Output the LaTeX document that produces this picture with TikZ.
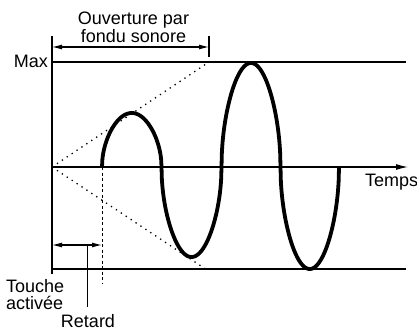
\documentclass[tikz,border=0pt]{standalone}
\usepackage{fontspec}
\setmainfont{Liberation Sans}
\usetikzlibrary{arrows.meta}
\begin{document}
\begin{tikzpicture}[x=1pt,y=-1pt,
  thinline/.style={line width=1.2pt},
  dimarrow/.style={line width=1.1pt,{Latex[length=10pt,width=5pt]}-{Latex[length=10pt,width=5pt]}},
  envline/.style={line width=1.3pt,dash pattern=on 1.3pt off 4.6pt},
  lbl/.style={inner sep=0pt,font=\fontsize{18}{16.2}\selectfont}]
\useasboundingbox (0,0) rectangle (417,331);
% coordinates
\coordinate (top) at (52,36);
\coordinate (bot) at (52,274);
\coordinate (o) at (52,167);
\coordinate (xend) at (408,167);
\coordinate (maxl) at (52,62);
\coordinate (maxr) at (406,62);
\coordinate (minl) at (52,269);
\coordinate (minr) at (406,269);
\coordinate (envtop) at (209,62);
\coordinate (envbot) at (207,270);
\coordinate (tickt) at (209,36);
\coordinate (tickb) at (209,57);
\coordinate (dl) at (52,47);
\coordinate (dr) at (209,47);
\coordinate (startup) at (102,167);
\coordinate (startdn) at (102,284);
\coordinate (rl) at (52,245);
\coordinate (rr) at (102,245);
\coordinate (lead) at (87.5,245);
\coordinate (leadb) at (87.5,307);
% axes and lines
\draw[thinline] (top) -- (bot);
\draw[thinline] (maxl) -- (maxr);
\draw[thinline] (minl) -- (minr);
\draw[thinline,-{Latex[length=12pt,width=6pt]}] (o) -- (xend);
\draw[thinline] (tickt) -- (tickb);
\draw[dimarrow] (dl) -- (dr);
% envelope
\draw[envline] (o) -- (envtop);
\draw[envline] (o) -- (envbot);
% delay
\draw[line width=0.9pt,dash pattern=on 3pt off 2.5pt] (startup) -- (startdn);
\draw[dimarrow] (rl) -- (rr);
\draw[line width=1pt] (lead) -- (leadb);
% waveform
\draw[line width=3.8pt,line cap=butt,line join=round]
  plot[domain=102:161.5,samples=160] (\x,{167-54*sqrt(abs(sin((\x-102)*180/59.5)))})
  -- plot[domain=161.5:221.5,samples=160] (\x,{167+90*sqrt(abs(sin((\x-161.5)*180/60)))})
  -- plot[domain=221.5:280.5,samples=160] (\x,{167-104*sqrt(abs(sin((\x-221.5)*180/59)))})
  -- plot[domain=280.5:339,samples=160] (\x,{167+102*sqrt(abs(sin((\x-280.5)*180/58.5)))});
% labels
\node[lbl,align=center,anchor=north] (ouv) at (133.5,11.5) {Ouverture par\\fondu sonore};
\node[lbl,anchor=base east] (max) at (48,68) {Max};
\node[lbl,anchor=base west] (temps) at (365,186.5) {Temps};
\node[lbl,anchor=north west,align=left,font=\fontsize{18}{17.2}\selectfont] (touche) at (6,279) {Touche\\activée};
\node[lbl,anchor=base] (retard) at (88,327.5) {Retard};
\end{tikzpicture}
\end{document}
